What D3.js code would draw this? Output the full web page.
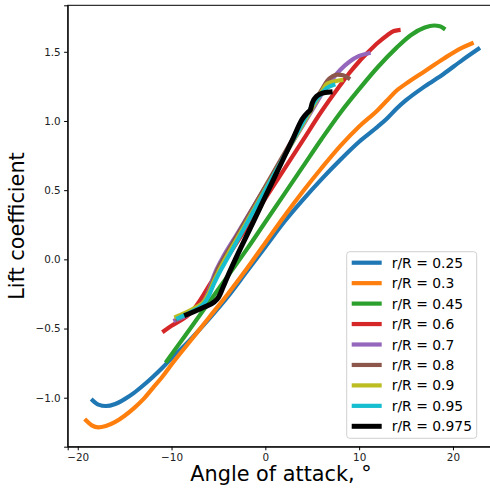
<!DOCTYPE html>
<html>
<head>
<meta charset="utf-8">
<script src="https://cdn.jsdelivr.net/npm/d3@7"></script>
<style>
  body { margin: 0; background: #fff; }
  svg { display: block; font-family: "DejaVu Sans", sans-serif; }
  .axis path, .axis line { stroke: #000; }
  .axis text { fill: #222; font-size: 10.4px; font-family: "DejaVu Sans", sans-serif; }
</style>
</head>
<body>
<svg id="polar" width="490" height="491"></svg>
<script>
// series labels (r/R)
const labels = ["r/R = 0.25", "r/R = 0.3", "r/R = 0.45", "r/R = 0.6", "r/R = 0.7",
                "r/R = 0.8", "r/R = 0.9", "r/R = 0.95", "r/R = 0.975"];

// angle of attack (deg) and lift coefficient for each section
const alpha025 = [-18.4,-17.8,-17.0,-16.0,-15.0,-14.0,-13.0,-12.0,-11.0,-10.0,-8.0,-6.0,-4.0,-2.0,0.0,2.0,4.0,6.0,8.0,10.0,12.0,13.0,14.0,15.0,17.0,19.0,21.0,22.7];
const cl025    = [-1.02,-1.05,-1.06,-1.045,-1.01,-0.965,-0.91,-0.85,-0.785,-0.715,-0.58,-0.43,-0.27,-0.09,0.09,0.27,0.43,0.58,0.72,0.85,0.96,1.02,1.09,1.15,1.25,1.34,1.44,1.52];

const alpha03 = [-19.1,-18.5,-17.8,-17.0,-16.0,-15.0,-14.0,-13.0,-12.0,-11.0,-10.0,-8.0,-6.0,-4.0,-2.0,0.0,2.0,4.0,6.0,8.0,10.0,12.0,13.0,14.0,15.0,17.0,19.0,21.0,22.0];
const cl03    = [-1.165,-1.20,-1.215,-1.205,-1.175,-1.13,-1.075,-1.01,-0.93,-0.85,-0.76,-0.59,-0.42,-0.25,-0.07,0.12,0.31,0.49,0.66,0.82,0.96,1.08,1.15,1.22,1.27,1.36,1.45,1.53,1.56];

const alpha045 = [-10.5,-9.5,-8.0,-6.0,-4.0,-2.0,0.0,2.0,4.0,6.0,8.0,10.0,12.0,14.0,15.5,17.0,18.0,18.6,19.0];
const cl045    = [-0.735,-0.64,-0.50,-0.31,-0.12,0.07,0.27,0.47,0.67,0.87,1.06,1.23,1.39,1.53,1.62,1.675,1.69,1.685,1.67];

const alpha06 = [-10.8,-10.0,-9.0,-8.0,-7.0,-6.0,-5.0,-4.0,-2.0,0.0,2.0,4.0,6.0,8.0,9.0,10.0,11.0,12.0,13.0,13.7,14.2];
const cl06    = [-0.518,-0.48,-0.44,-0.39,-0.30,-0.19,-0.085,0.02,0.23,0.44,0.65,0.86,1.07,1.26,1.35,1.43,1.50,1.565,1.62,1.65,1.657];

const alpha07 = [-9.6,-9.0,-8.0,-7.0,-6.5,-6.0,-5.5,-4.65,-3.0,-1.0,1.0,3.0,5.0,6.2,7.0,8.0,9.0,10.0,11.0];
const cl07    = [-0.44,-0.425,-0.39,-0.34,-0.30,-0.22,-0.12,0.0,0.185,0.41,0.633,0.857,1.08,1.215,1.29,1.37,1.43,1.47,1.49];

const alpha08 = [-9.4,-8.5,-7.5,-6.5,-6.0,-5.5,-5.0,-4.5,-3.0,-1.0,1.0,3.0,5.0,6.0,6.6,7.2,7.7,8.3,8.85];
const cl08    = [-0.43,-0.40,-0.36,-0.30,-0.23,-0.14,-0.06,0.0,0.175,0.41,0.645,0.88,1.11,1.225,1.29,1.325,1.335,1.33,1.31];

const alpha09 = [-9.5,-8.5,-7.5,-6.5,-6.0,-5.5,-5.0,-4.3,-3.0,-1.0,1.0,3.0,5.0,6.0,6.5,7.0,7.6,8.1];
const cl09    = [-0.415,-0.385,-0.35,-0.30,-0.24,-0.16,-0.09,0.0,0.153,0.388,0.624,0.859,1.094,1.21,1.265,1.28,1.29,1.295];

const alpha095 = [-9.3,-8.5,-7.5,-6.5,-6.0,-5.5,-5.0,-4.1,-3.0,-1.0,1.0,3.0,4.5,5.0,5.5,6.0,6.5,7.25];
const cl095    = [-0.425,-0.40,-0.365,-0.315,-0.26,-0.18,-0.11,0.0,0.134,0.378,0.622,0.866,1.05,1.11,1.16,1.2,1.235,1.26];

const alpha0975 = [-8.4,-7.5,-6.5,-5.5,-5.0,-4.5,-4.0,-3.2,-2.0,-1.0,0.0,1.0,2.0,3.0,3.9,4.5,4.8,5.0,5.5,6.0,6.9];
const cl0975    = [-0.40,-0.375,-0.345,-0.31,-0.275,-0.2,-0.12,0.0,0.17,0.31,0.454,0.596,0.738,0.88,1.01,1.06,1.08,1.13,1.18,1.20,1.21];

// axis ticks
const xTicks = [-20, -10, 0, 10, 20];
const yTicks = [-1.0, -0.5, 0.0, 0.5, 1.0, 1.5];

// styles, one per series
const colors = ["#1f77b4","#ff7f0e","#2ca02c","#d62728","#9467bd","#8c564b","#bcbd22","#17becf","#000000"];
const widths = [4.2, 4.2, 4.2, 4.2, 4.2, 4.2, 4.2, 4.2, 5];

const drawChart = function() {
    const svg = d3.select("#polar");
    const margins = {top: 5.3, left: 67.7};
    const chartWidth = 431.2;
    const chartHeight = 441.4;

    const series = [
        [alpha025, cl025], [alpha03, cl03], [alpha045, cl045], [alpha06, cl06], [alpha07, cl07],
        [alpha08, cl08], [alpha09, cl09], [alpha095, cl095], [alpha0975, cl0975]
    ].map((s, i) => ({label: labels[i], pts: s[0].map((a, j) => [a, s[1][j]])}));

    // scales
    const scaleAlpha = d3.scaleLinear().domain([-21.07, 24.9]).range([0, chartWidth]);
    const scaleCl = d3.scaleLinear().domain([-1.354, 1.836]).range([chartHeight, 0]);

    const chartArea = svg.append("g")
        .attr("transform", `translate(${margins.left},${margins.top})`);

    // lines
    const line = d3.line()
        .x(d => scaleAlpha(d[0]))
        .y(d => scaleCl(d[1]))
        .curve(d3.curveMonotoneX);

    chartArea.selectAll("path.polar")
        .data(series)
        .join("path")
        .attr("class", "polar")
        .attr("d", d => line(d.pts))
        .attr("fill", "none")
        .attr("stroke", (d, i) => colors[i])
        .attr("stroke-width", (d, i) => widths[i])
        .attr("stroke-linejoin", "round")
        .attr("stroke-linecap", "square");

    // axes
    const bottomAxis = d3.axisBottom(scaleAlpha).tickValues(xTicks).tickSize(3.6).tickPadding(3.4);
    chartArea.append("g")
        .attr("class", "axis")
        .attr("transform", `translate(0,${chartHeight})`)
        .call(bottomAxis);
    const leftAxis = d3.axisLeft(scaleCl).tickValues(yTicks).tickFormat(d3.format(".1f")).tickSize(3.6).tickPadding(3.4);
    chartArea.append("g")
        .attr("class", "axis")
        .call(leftAxis);
    // top and right spines
    chartArea.append("rect")
        .attr("width", chartWidth)
        .attr("height", chartHeight)
        .attr("fill", "none")
        .attr("stroke", "#000");
    chartArea.selectAll(".axis path.domain").attr("stroke-width", 1);

    // axis labels
    svg.append("text")
        .attr("x", 281)
        .attr("y", 481)
        .attr("text-anchor", "middle")
        .attr("font-size", "20.8px")
        .attr("fill", "#000")
        .text("Angle of attack, °");
    svg.append("text")
        .attr("transform", "translate(24,226) rotate(-90)")
        .attr("text-anchor", "middle")
        .attr("font-size", "20.8px")
        .attr("fill", "#000")
        .text("Lift coefficient");

    // legend
    const legend = svg.append("g").attr("transform", "translate(346.7,251.7)");
    legend.append("rect")
        .attr("width", 130)
        .attr("height", 186.6)
        .attr("rx", 3)
        .attr("fill", "#fff")
        .attr("fill-opacity", 0.8)
        .attr("stroke", "#d0d0d0");
    const items = legend.selectAll("g.item")
        .data(series)
        .join("g")
        .attr("class", "item")
        .attr("transform", (d, i) => `translate(0,${11 + i * 20.45})`);
    items.append("line")
        .attr("x1", 5).attr("x2", 35)
        .attr("stroke", (d, i) => colors[i])
        .attr("stroke-width", (d, i) => widths[i]);
    items.append("text")
        .attr("x", 45)
        .attr("y", 5)
        .attr("font-size", "13.9px")
        .attr("fill", "#000")
        .text(d => d.label);
};
drawChart();
</script>
</body>
</html>
